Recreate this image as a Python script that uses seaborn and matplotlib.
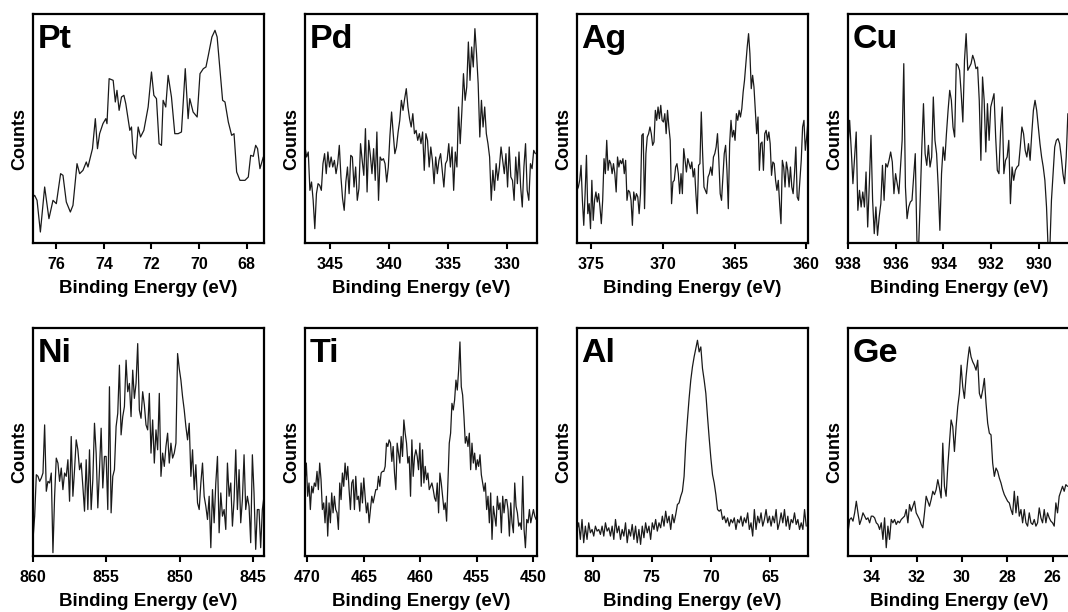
import numpy as np
import pandas as pd

import matplotlib
matplotlib.use("Agg")

import matplotlib.pyplot as plt
import seaborn as sns


# =====================================
# SPECTRA (counts in arbitrary units)
# =====================================

pt_energy = [
    76.98, 76.91, 76.81, 76.67, 76.49, 76.31, 76.14, 76.00, 75.82, 75.72,
    75.58, 75.41, 75.30, 75.13, 75.02, 74.88, 74.74, 74.67, 74.48, 74.36,
    74.27, 74.18, 74.04, 73.92, 73.87, 73.78, 73.61, 73.52, 73.45, 73.36,
    73.26, 73.16, 73.08, 72.91, 72.84, 72.77, 72.66, 72.56, 72.46, 72.32,
    72.14, 72.00, 71.90, 71.79, 71.68, 71.58, 71.51, 71.40, 71.30, 71.16,
    71.02, 70.88, 70.74, 70.58, 70.46, 70.39, 70.25, 70.08, 69.96, 69.82,
    69.71, 69.61, 69.46, 69.33, 69.24, 69.01, 68.91, 68.77, 68.63, 68.53,
    68.42, 68.28, 68.07, 67.93, 67.83, 67.72, 67.62, 67.54, 67.44, 67.30
]

pt_counts = [
    138, 143, 128, 33, 168, 73, 128, 118, 208, 203,
    123, 93, 113, 238, 208, 218, 243, 228, 283, 373,
    283, 328, 358, 373, 358, 493, 488, 423, 458, 398,
    438, 443, 418, 338, 348, 268, 253, 348, 318, 338,
    408, 513, 443, 433, 298, 293, 428, 408, 503, 438,
    328, 328, 333, 523, 373, 433, 393, 378, 508, 523,
    528, 563, 618, 638, 618, 428, 423, 363, 323, 328,
    213, 188, 188, 198, 263, 260, 293, 283, 223, 258
]

pd_counts = [
    288, 258, 273, 158, 183, 128, 43, 148, 178, 173,
    158, 238, 268, 208, 273, 228, 258, 228, 248, 208,
    238, 293, 198, 133, 98, 183, 228, 148, 263, 258,
    168, 228, 128, 163, 298, 248, 203, 343, 153, 308,
    263, 208, 283, 188, 333, 128, 258, 248, 253, 238,
    183, 228, 323, 393, 328, 268, 288, 333, 368, 428,
    398, 433, 463, 408, 373, 348, 388, 328, 338, 308,
    328, 298, 333, 218, 328, 308, 228, 288, 248, 178,
    258, 208, 248, 268, 218, 168, 238, 248, 298, 228,
    288, 158, 273, 228, 408, 298, 393, 508, 428, 468,
    603, 488, 588, 528, 643, 568, 478, 318, 428, 348,
    408, 328, 298, 258, 128, 218, 158, 238, 188, 228,
    288, 248, 208, 268, 168, 288, 198, 188, 128, 258,
    178, 273, 168, 108, 228, 298, 158, 128, 238, 223,
    278, 268
]

ag_counts = [
    158, 168, 188, 233, 128, 53, 148, 263, 88, 118,
    43, 188, 68, 128, 153, 123, 148, 108, 58, 128,
    253, 208, 308, 218, 248, 238, 208, 238, 208, 153,
    258, 228, 248, 238, 253, 208, 248, 128, 158, 153,
    128, 53, 153, 128, 148, 138, 88, 148, 323, 328,
    103, 268, 318, 328, 348, 328, 293, 303, 398, 368,
    408, 373, 413, 368, 363, 388, 328, 398, 348, 308,
    118, 183, 188, 228, 238, 208, 148, 208, 148, 283,
    248, 213, 253, 238, 223, 243, 198, 223, 148, 88,
    233, 238, 393, 268, 168, 158, 148, 198, 208, 228,
    203, 258, 268, 288, 328, 248, 148, 128, 198, 268,
    293, 218, 103, 298, 368, 318, 338, 308, 388, 368,
    398, 378, 403, 453, 488, 538, 588, 628, 568, 463,
    503, 468, 398, 328, 378, 218, 298, 303, 218, 328,
    338, 308, 333, 298, 203, 243, 238, 188, 158, 188,
    118, 58, 248, 228, 168, 243, 218, 168, 228, 168,
    148, 208, 288, 138, 128, 188, 248, 348, 368, 278,
    318, 368
]

cu_counts = [
    288, 368, 278, 178, 258, 333, 98, 158, 108, 153,
    108, 213, 48, 178, 323, 128, 28, 108, 23, 78,
    118, 233, 128, 238, 228, 248, 273, 243, 148, 208,
    178, 148, 228, 308, 538, 168, 73, 108, 123, 128,
    198, 268, 8, -20, 128, 288, 418, 268, 233, 293,
    228, 258, 438, 308, 268, 168, 38, 208, 288, 248,
    328, 398, 458, 428, 348, 318, 538, 533, 518, 448,
    363, 548, 628, 518, 528, 538, 563, 548, 523, 528,
    428, 248, 498, 428, 273, 418, 308, 408, 428, 448,
    318, 218, 208, 338, 408, 208, 248, 258, 308, 118,
    228, 188, 218, 228, 233, 288, 348, 328, 278, 258,
    298, 248, 328, 398, 428, 398, 348, 298, 258, 228,
    188, 108, -20, -20, 128, 208, 288, 308, 313, 298,
    258, 208, 178, 258, 388
]

ni_counts = [
    50, 120, 245, 240, 225, 235, 250, 395, 195, 225,
    220, 250, 10, 180, 295, 280, 225, 265, 200, 250,
    240, 290, 165, 360, 180, 260, 350, 320, 260, 280,
    210, 135, 290, 140, 320, 140, 230, 400, 310, 145,
    260, 385, 205, 300, 300, 140, 510, 130, 240, 260,
    390, 430, 575, 365, 420, 450, 590, 495, 520, 420,
    560, 475, 520, 640, 440, 415, 495, 455, 395, 380,
    490, 310, 410, 280, 380, 320, 490, 240, 310, 270,
    330, 370, 280, 340, 295, 310, 340, 610, 565, 530,
    480, 440, 390, 350, 400, 240, 320, 200, 275, 160,
    140, 220, 280, 180, 150, 110, 180, 25, 200, 100,
    220, 300, 70, 190, 120, 140, 80, 280, 180, 220,
    90, 170, 320, 140, 260, 100, 170, 305, 140, 180,
    150, 40, 305, 190, 20, 140, 140, 25, 140, 180
]

ti_counts = [
    220, 280, 180, 220, 140, 210, 190, 220, 210, 255,
    200, 280, 230, 140, 160, 100, 180, 60, 160, 100,
    190, 130, 180, 140, 130, 80, 220, 170, 250, 210,
    280, 230, 270, 200, 140, 220, 230, 140, 240, 170,
    180, 135, 220, 160, 235, 180, 130, 160, 100, 140,
    180, 160, 180, 200, 200, 240, 210, 250, 255, 255,
    270, 340, 330, 350, 340, 285, 330, 250, 200, 340,
    310, 280, 360, 300, 410, 370, 340, 280, 300, 180,
    350, 240, 300, 320, 300, 260, 340, 210, 320, 220,
    270, 230, 250, 200, 210, 220, 200, 175, 165, 220,
    130, 250, 220, 180, 140, 160, 105, 220, 340, 370,
    460, 440, 470, 530, 500, 560, 645, 510, 485, 420,
    340, 360, 330, 370, 260, 340, 280, 310, 260, 290,
    270, 305, 245, 220, 195, 220, 140, 180, 100, 190,
    50, 150, 120, 90, 180, 140, 160, 70, 180, 130,
    170, 170, 140, 60, 160, 100, 70, 220, 150, 130,
    90, 100, 80, 240, 80, 25, 110, 100, 140, 100,
    120, 140, 120, 110
]

al_counts = [
    80, 100, 50, 110, 40, 90, 50, 100, 70, 80,
    60, 90, 75, 80, 65, 90, 60, 100, 75, 85,
    60, 90, 50, 110, 70, 90, 50, 80, 60, 100,
    40, 80, 60, 95, 50, 90, 40, 80, 35, 90,
    55, 100, 70, 90, 50, 100, 80, 110, 75, 100,
    85, 120, 90, 135, 100, 120, 80, 125, 100, 125,
    155, 160, 180, 195, 240, 340, 410, 475, 530, 570,
    600, 625, 650, 615, 630, 565, 530, 490, 420, 355,
    295, 245, 220, 185, 140, 135, 140, 110, 120, 100,
    115, 90, 110, 100, 115, 80, 110, 100, 120, 90,
    115, 100, 130, 80, 100, 60, 140, 80, 120, 100,
    130, 90, 110, 140, 100, 120, 90, 120, 100, 140,
    80, 100, 130, 100, 140, 90, 120, 80, 110, 100,
    130, 95, 110, 80, 100, 80, 140, 90
]

ge_counts = [
    70, 110, 115, 105, 130, 165, 130, 95, 110, 130,
    120, 110, 115, 100, 120, 120, 115, 100, 95, 80,
    100, 50, 115, 25, 90, 50, 110, 100, 110, 95,
    105, 100, 110, 115, 120, 140, 100, 155, 135, 150,
    165, 130, 120, 110, 95, 85, 130, 180, 165, 150,
    170, 195, 185, 200, 230, 205, 175, 340, 210, 180,
    270, 340, 410, 390, 315, 390, 450, 490, 575, 510,
    475, 540, 590, 630, 600, 585, 575, 560, 590, 490,
    475, 500, 535, 460, 400, 370, 365, 280, 240, 265,
    255, 235, 220, 200, 185, 175, 165, 160, 140, 125,
    195, 130, 180, 120, 140, 100, 140, 100, 90, 130,
    100, 95, 110, 90, 100, 145, 115, 100, 140, 100,
    130, 115, 105, 100, 90, 160, 130, 180, 195, 210,
    195, 215, 210
]

# constant-step energy grids: first and last channel (eV)
pd_energy = np.linspace(347.10, 327.62, len(pd_counts))
ag_energy = np.linspace(376.00, 359.88, len(ag_counts))
cu_energy = np.linspace(938.00, 928.79, len(cu_counts))
ni_energy = np.linspace(860.00, 844.25, len(ni_counts))
ti_energy = np.linspace(470.21, 449.73, len(ti_counts))
al_energy = np.linspace(81.33, 61.93, len(al_counts))
ge_energy = np.linspace(35.03, 25.34, len(ge_counts))

elements = ["Pt", "Pd", "Ag", "Cu", "Ni", "Ti", "Al", "Ge"]

energies = [pt_energy, pd_energy, ag_energy, cu_energy,
            ni_energy, ti_energy, al_energy, ge_energy]

counts = [pt_counts, pd_counts, ag_counts, cu_counts,
          ni_counts, ti_counts, al_counts, ge_counts]

x_ranges = [
    (76.98, 67.27), (347.10, 327.48), (376.00, 359.88), (938.00, 928.70),
    (860.00, 844.25), (470.21, 449.65), (81.33, 61.78), (35.03, 25.23)
]

x_ticks = [
    [76, 74, 72, 70, 68],
    [345, 340, 335, 330],
    [375, 370, 365, 360],
    [938, 936, 934, 932, 930],
    [860, 855, 850, 845],
    [470, 465, 460, 455, 450],
    [80, 75, 70, 65],
    [34, 32, 30, 28, 26]
]


# =====================================
# STYLE
# =====================================

sns.set_theme(style="ticks")

plt.rcParams["font.family"] = ["Liberation Sans", "DejaVu Sans"]
plt.rcParams["font.weight"] = "bold"
plt.rcParams["axes.edgecolor"] = "black"
plt.rcParams["axes.labelcolor"] = "black"
plt.rcParams["text.color"] = "black"
plt.rcParams["xtick.color"] = "black"
plt.rcParams["axes.linewidth"] = 1.6


# =====================================
# FIGURE
# =====================================

W, H = 1068, 612

fig = plt.figure(figsize=(W / 100, H / 100), dpi=100)

col_left = [33, 305, 577, 848]
col_width = [231, 232, 231, 222]
row_bottom = [369, 56]
row_height = [229, 228]

for i, name in enumerate(elements):

    r, c = divmod(i, 4)

    ax = fig.add_axes([
        col_left[c] / W,
        row_bottom[r] / H,
        col_width[c] / W,
        row_height[r] / H
    ])

    df = pd.DataFrame({
        "energy": energies[i],
        "counts": counts[i]
    })

    sns.lineplot(
        data=df,
        x="energy",
        y="counts",
        ax=ax,
        color="#1a1a1a",
        linewidth=0.9,
        estimator=None,
        sort=False
    )

    ax.set_xlim(*x_ranges[i])
    ax.set_ylim(0, 687)

    ax.set_xticks(x_ticks[i])
    ax.set_yticks([])

    ax.tick_params(
        axis="x",
        direction="out",
        length=4,
        width=1.5,
        pad=6,
        labelsize=11.5,
        colors="black"
    )

    for lab in ax.get_xticklabels():
        lab.set_fontweight("bold")

    ax.set_xlabel(
        "Binding Energy (eV)",
        fontsize=13.5,
        fontweight="bold",
        labelpad=6
    )

    ax.set_ylabel(
        "Counts",
        fontsize=13,
        fontweight="bold"
    )
    ax.yaxis.set_label_coords(-0.021, 0.456)

    ax.text(
        0.02, 0.955,
        name,
        transform=ax.transAxes,
        fontsize=24.5,
        fontweight="bold",
        color="black",
        ha="left",
        va="top"
    )

fig.savefig("out.png", dpi=100, facecolor="white")
plt.close(fig)
